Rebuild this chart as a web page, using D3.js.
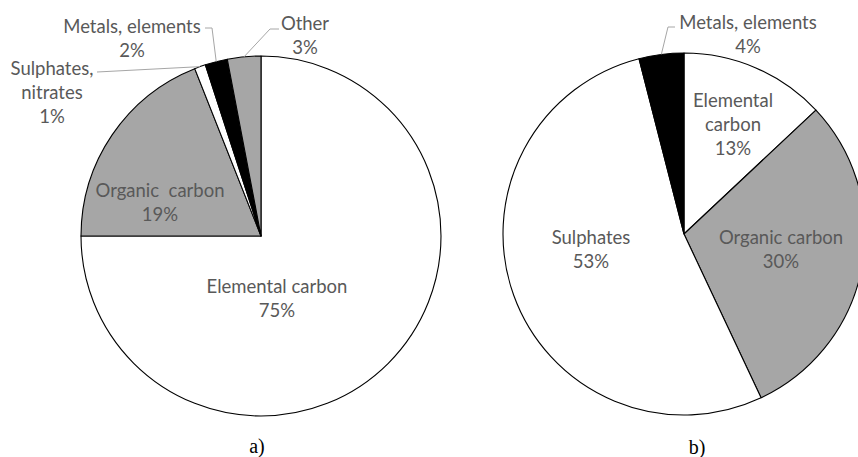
<!DOCTYPE html>
<html><head><meta charset="utf-8">
<script src="https://cdn.jsdelivr.net/npm/d3@7"></script>
<style>
html,body{margin:0;padding:0;background:#fff;}
svg{display:block;}
</style>
</head><body>
<svg id="chart" width="858" height="457"></svg>
<script>
// ---- data ----
const categoriesA = ["Elemental carbon", "Organic carbon", "Sulphates, nitrates", "Metals, elements", "Other"];
const valuesA = [75, 19, 1, 2, 3];
const labelsA = [["Elemental carbon", "75%"], ["Organic  carbon", "19%"], ["Sulphates,", "nitrates", "1%"], ["Metals, elements", "2%"], ["Other", "3%"]];

const categoriesB = ["Elemental carbon", "Organic carbon", "Sulphates", "Metals, elements"];
const valuesB = [13, 30, 53, 4];
const labelsB = [["Elemental", "carbon", "13%"], ["Organic carbon", "30%"], ["Sulphates", "53%"], ["Metals, elements", "4%"]];

const captions = ["a)", "b)"];

// ---- styles / layout ----
const fillOf = {
  "Elemental carbon": "#ffffff",
  "Organic carbon": "#a6a6a6",
  "Sulphates, nitrates": "#ffffff",
  "Sulphates": "#ffffff",
  "Metals, elements": "#000000",
  "Other": "#a6a6a6"
};
const R = 180;
const lineH = 24;
const textColor = "#595959";
const leaderColor = "#a6a6a6";

const svg = d3.select("#chart");

function drawPie(cfg) {
  const g = svg.append("g").attr("transform", `translate(${cfg.cx},${cfg.cy})`);
  const pie = d3.pie().sort(null).value(d => d.v).startAngle(0).endAngle(2 * Math.PI);
  const data = cfg.cats.map((c, i) => ({ c, v: cfg.vals[i], lab: cfg.labels[i], i }));
  const arcs = pie(data);
  const arc = d3.arc().innerRadius(0).outerRadius(cfg.r);

  g.selectAll("path.slice").data(arcs).join("path")
    .attr("class", "slice")
    .attr("d", arc)
    .attr("fill", d => fillOf[d.data.c])
    .attr("stroke", "#000")
    .attr("stroke-width", 1.1)
    .attr("stroke-linejoin", "round");

  // leader lines
  arcs.forEach((a, idx) => {
    const L = cfg.leaders[idx];
    if (!L) return;
    const mid = (a.startAngle + a.endAngle) / 2;
    const p0 = [Math.sin(mid) * cfg.r, -Math.cos(mid) * cfg.r];
    const pts = [p0].concat(L);
    g.append("path")
      .attr("d", d3.line()(pts))
      .attr("fill", "none")
      .attr("stroke", leaderColor)
      .attr("stroke-width", 1);
  });

  // labels
  arcs.forEach((a, idx) => {
    const pos = cfg.labelPos[idx];
    const lines = a.data.lab;
    const t = g.append("text")
      .attr("text-anchor", "middle")
      .attr("fill", textColor)
      .attr("font-family", "Lato, 'Noto Sans', sans-serif")
      .attr("font-size", 18.5);
    lines.forEach((s, k) => {
      t.append("tspan")
        .attr("x", pos[0])
        .attr("y", pos[1] + k * lineH)
        .attr("dominant-baseline", "central")
        .attr("xml:space", "preserve")
        .style("white-space", "pre")
        .text(s);
    });
  });

  svg.append("text")
    .attr("x", cfg.capX).attr("y", cfg.capY)
    .attr("text-anchor", "middle")
    .attr("dominant-baseline", "central")
    .attr("font-family", "'Liberation Serif', 'DejaVu Serif', serif")
    .attr("font-size", 20)
    .attr("fill", "#000")
    .text(cfg.caption);
}

drawPie({
  cx: 261, cy: 236, r: R,
  cats: categoriesA, vals: valuesA, labels: labelsA,
  labelPos: [[16, 50], [-101, -46], [-209, -168], [-129, -210], [44, -213]],
  leaders: [null, null, [[-164, -164]], [[-49, -208], [-56, -208]], [[9, -207], [18, -207]]],
  caption: captions[0], capX: 257, capY: 446
});

drawPie({
  cx: 684, cy: 234, r: R + 1,
  cats: categoriesB, vals: valuesB, labels: labelsB,
  labelPos: [[49, -134], [97, 3], [-93, 3], [64, -212]],
  leaders: [null, null, null, [[-16, -207], [-9, -207]]],
  caption: captions[1], capX: 697, capY: 447
});
</script>
</body></html>
